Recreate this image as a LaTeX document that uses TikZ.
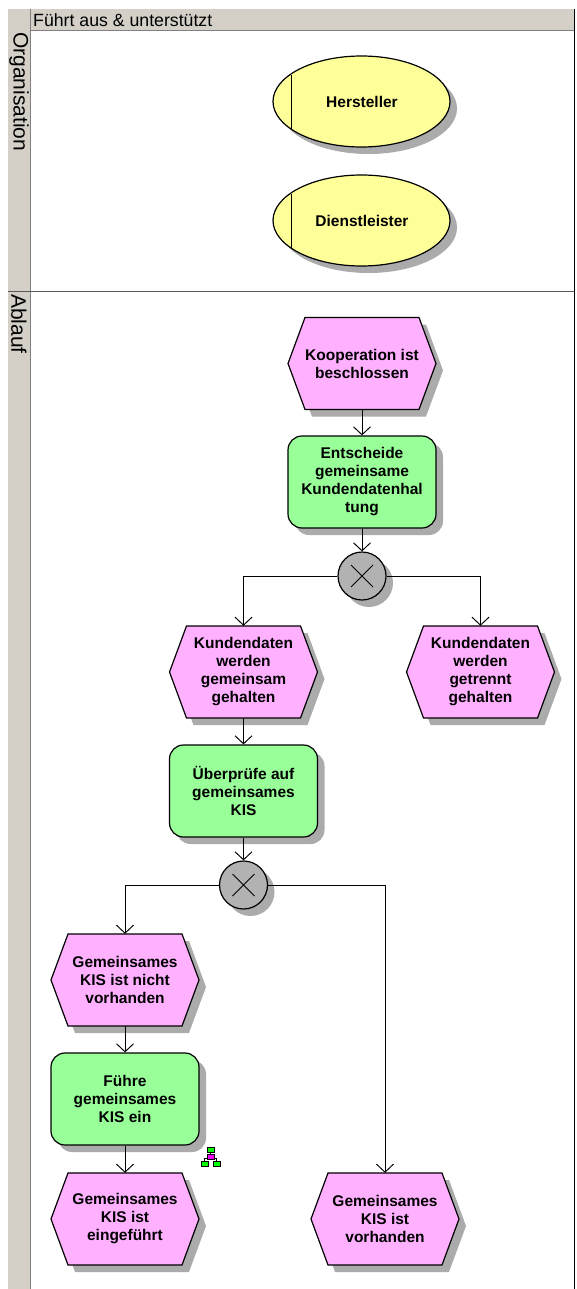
\documentclass[tikz,border=0pt]{standalone}
\usepackage{fontspec}
\setmainfont{Liberation Sans}
\usetikzlibrary{arrows.meta,shapes.geometric,shadows}
\definecolor{bandc}{HTML}{D4D0C8}
\definecolor{evc}{HTML}{FFB0FF}
\definecolor{fnc}{HTML}{99FF99}
\definecolor{orgc}{HTML}{FFFF99}
\definecolor{shc}{HTML}{ABABAB}
\definecolor{xorc}{HTML}{B2B2B2}
\definecolor{icog}{HTML}{00FF00}
\definecolor{icom}{HTML}{FF00FF}
\tikzset{
  x=1pt,y=-1pt,
  lbl/.style={font=\fontsize{15.5}{18}\selectfont\bfseries,align=center,text=black,inner sep=0pt},
  bandtxt/.style={font=\fontsize{17.7}{18}\selectfont,text=black,inner sep=0pt},
  bandrot/.style={font=\fontsize{21}{18}\selectfont,text=black,inner sep=0pt},
  sh/.style={drop shadow={shadow xshift=7pt,shadow yshift=-7pt,fill=shc,opacity=1}},
  fnbox/.style={lbl,rectangle,rounded corners=14pt,draw=black,line width=1.2pt,fill=fnc,minimum width=148pt,minimum height=92pt,sh},
  evbox/.style={lbl,minimum width=148pt,minimum height=92pt},
  orgbox/.style={lbl,ellipse,draw=black,line width=1.2pt,fill=orgc,minimum width=177pt,minimum height=91pt,sh},
  xorbox/.style={circle,draw=black,line width=1.2pt,fill=xorc,minimum size=48pt,inner sep=0pt,sh},
  conn/.style={draw=black,line width=0.95pt},
  arr/.style={conn,-{Straight Barb[length=8pt,width=17pt,line width=0.95pt]}},
  ico/.style={draw=black,line width=0.7pt}
}
\newcommand{\evnode}[4]{%
  \fill[shc] (#2-74+7,#3+7) -- ++(17,-46) -- ++(114,0) -- ++(17,46) -- ++(-17,46) -- ++(-114,0) -- cycle;
  \draw[fill=evc,line width=1.2pt] (#2-74,#3) -- ++(17,-46) -- ++(114,0) -- ++(17,46) -- ++(-17,46) -- ++(-114,0) -- cycle;
  \node[evbox] (#1) at (#2,#3) {#4};}
\newcommand{\xorsym}[1]{%
  \draw[line width=0.9pt] ([shift={(-11,-11)}]#1.center) -- ([shift={(11,11)}]#1.center)
    ([shift={(-11,11)}]#1.center) -- ([shift={(11,-11)}]#1.center);}
\begin{document}
\begin{tikzpicture}
\useasboundingbox (0,0) rectangle (576,1289);
\fill[white] (0,0) rectangle (576,1289);
% bands
\fill[bandc] (8,9) rectangle (574,30);
\fill[bandc] (8,30) rectangle (30,1289);
\draw[gray,line width=1pt] (30,9) -- (30,1289);
\draw[gray,line width=1pt] (30,30.5) -- (574,30.5);
\draw[gray!70!black,line width=1.5pt] (8,291.5) -- (574,291.5);
\draw[black,line width=1.2pt] (574.5,9) -- (574.5,1289);
\node[bandtxt,anchor=west] (hdr) at (33,20) {Führt aus \& unterstützt};
\node[bandrot,rotate=-90,anchor=west] (orgl) at (19,32) {Organisation};
\node[bandrot,rotate=-90,anchor=west] (abl) at (19,294) {Ablauf};
% organisation
\node[orgbox] (her) at (361.5,101.5) {};
\node[lbl] (hert) at (362,102) {Hersteller};
\draw[line width=1pt] (291,75) -- (291,129);
\node[orgbox] (die) at (361.5,220.5) {};
\node[lbl] (diet) at (362,221) {Dienstleister};
\draw[line width=1pt] (291,194) -- (291,248);
% flow
\evnode{k}{362}{363.5}{Kooperation ist\\beschlossen}
\node[fnbox] (e) at (362,482) {Entscheide\\gemeinsame\\Kundendatenhal\\tung};
\node[xorbox] (x1) at (362,576) {};
\xorsym{x1}
\evnode{kg}{243.5}{672}{Kundendaten\\werden\\gemeinsam\\gehalten}
\evnode{kt}{480.5}{672}{Kundendaten\\werden\\getrennt\\gehalten}
\node[fnbox] (u) at (243.5,791) {Überprüfe auf\\gemeinsames\\KIS};
\node[xorbox] (x2) at (243.5,885) {};
\xorsym{x2}
\evnode{gn}{125}{980}{Gemeinsames\\KIS ist nicht\\vorhanden}
\node[fnbox] (f) at (125,1099) {Führe\\gemeinsames\\KIS ein};
\evnode{ge}{125}{1219}{Gemeinsames\\KIS ist\\eingeführt}
\evnode{gv}{385}{1219}{Gemeinsames\\KIS ist\\vorhanden}
% connectors
\draw[arr] (k.south) -- (e.north);
\draw[arr] (e.south) -- (x1.north);
\draw[arr] (x1.west) -| (kg.north);
\draw[arr] (x1.east) -| (kt.north);
\draw[arr] (kg.south) -- (u.north);
\draw[arr] (u.south) -- (x2.north);
\draw[arr] (x2.west) -| (gn.north);
\draw[arr] (x2.east) -| (gv.north);
\draw[arr] (gn.south) -- (f.north);
\draw[arr] (f.south) -- (ge.north);
% icon
\draw[ico] (210.5,1152) -- (210.5,1158) (204.5,1161) -- (204.5,1158) -- (216.5,1158) -- (216.5,1161);
\draw[ico,fill=icog] (207,1147.5) rectangle (214,1152.5);
\draw[ico,fill=icom] (207,1154.5) rectangle (214,1159.5);
\draw[ico,fill=icog] (201,1161.5) rectangle (208,1166.5);
\draw[ico,fill=icog] (213,1161.5) rectangle (220,1166.5);
\end{tikzpicture}
\end{document}
